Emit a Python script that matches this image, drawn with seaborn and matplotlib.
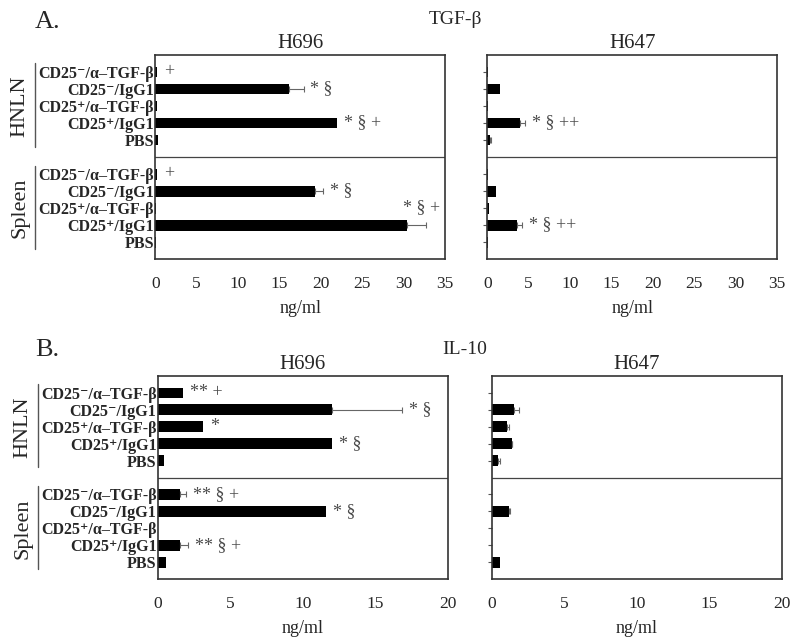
import numpy as np
import pandas as pd
import matplotlib
matplotlib.use("Agg")
import matplotlib.pyplot as plt
import matplotlib.transforms as mtransforms
import seaborn as sns

# row labels, HNLN block first then Spleen block
groups = ["CD25⁻/α–TGF-β", "CD25⁻/IgG1", "CD25⁺/α–TGF-β", "CD25⁺/IgG1", "PBS"]
tissues = ["HNLN", "Spleen"]

# A. TGF-beta (ng/ml)
tgf_h696 = [0.2, 16.1, 0.2, 21.9, 0.3, 0.2, 19.3, 0.1, 30.4, 0.05]
tgf_h696_err = [0, 1.8, 0, 0, 0, 0, 0.9, 0, 2.3, 0]
tgf_h647 = [0.15, 1.6, 0.15, 4.0, 0.3, 0.15, 1.1, 0.25, 3.6, 0.05]
tgf_h647_err = [0, 0, 0, 0.6, 0.1, 0, 0, 0, 0.6, 0]

# B. IL-10 (ng/ml)
il10_h696 = [1.7, 12.0, 3.1, 12.0, 0.4, 1.5, 11.6, 0.0, 1.55, 0.55]
il10_h696_err = [0, 4.8, 0, 0, 0, 0.45, 0, 0, 0.5, 0]
il10_h647 = [0.0, 1.55, 1.05, 1.35, 0.4, 0.0, 1.2, 0.0, 0.0, 0.55]
il10_h647_err = [0, 0.3, 0.1, 0.05, 0.15, 0, 0.05, 0, 0, 0]

# significance marks: (row, text) or (row, text, row whose bar it sits next to)
tgf_h696_marks = [(0, "+"), (1, "* §"), (3, "* § +"), (5, "+"), (6, "* §"), (7, "* § +", 8)]
tgf_h647_marks = [(3, "* § ++"), (8, "* § ++")]
il10_h696_marks = [(0, "** +"), (1, "* §"), (2, "*"), (3, "* §"),
                   (5, "** § +"), (6, "* §"), (8, "** § +")]
il10_h647_marks = []

# slot positions on the y axis: rows 1-5, divider at 6, rows 7-11
slots = [1, 2, 3, 4, 5, 7, 8, 9, 10, 11]

sns.set_style("white")
plt.rcParams["font.family"] = ["Liberation Serif", "DejaVu Serif"]

GREY = "#4a4a4a"


def draw_panel(ax, vals, errs, marks, xmax, title, labels):
    df = pd.DataFrame({"value": vals, "slot": slots})
    sns.barplot(data=df, x="value", y="slot", orient="h", native_scale=True,
                color="black", saturation=1, width=0.64, errorbar=None,
                linewidth=0, ax=ax)
    for v, e, s in zip(vals, errs, slots):
        if e > 0:
            ax.errorbar(v, s, xerr=[[0], [e]], fmt="none", ecolor="#666666",
                        elinewidth=0.8, capsize=2.5, capthick=0.8)
    for m in marks:
        row, text = m[0], m[1]
        if len(m) == 3:
            x, off = vals[m[2]], -3
        else:
            x, off = vals[row] + errs[row], 5
        ax.annotate(text, (x, slots[row]), xytext=(off, 0), textcoords="offset points",
                    ha="left", va="center", fontsize=13, color=GREY)

    ax.axhline(6, color="#444444", lw=0.9)
    ax.set_ylim(12, 0)
    ax.set_xlim(0, xmax)
    ax.set_xticks(np.arange(0, xmax + 1, 5))
    ax.tick_params(axis="x", length=0, pad=12, labelsize=12.5)
    ax.set_xlabel("ng/ml", fontsize=13, labelpad=6)
    ax.set_ylabel("")
    ax.set_title(title, fontsize=15, pad=5)
    ax.set_yticks(slots)
    if labels:
        ax.set_yticklabels(groups * 2, fontweight="bold", fontsize=11.5)
        ax.tick_params(axis="y", length=0, pad=1)
        trans = mtransforms.blended_transform_factory(ax.transAxes, ax.transData)
        for k, name in enumerate(tissues):
            first, last = slots[5 * k], slots[5 * k + 4]
            ax.plot([-0.415, -0.415], [first - 0.5, last + 0.4], transform=trans,
                    color="#555555", lw=1.0, clip_on=False)
            ax.text(-0.465, (first + last) / 2, name, transform=trans, rotation=90,
                    ha="center", va="center", fontsize=16)
    else:
        ax.set_yticklabels([])
        ax.tick_params(axis="y", left=True, length=3, width=0.8, color="#555555")
    for sp in ax.spines.values():
        sp.set_color("#333333")
        sp.set_linewidth(1.2)


fig = plt.figure(figsize=(8, 6.43), dpi=100)
ax_a1 = fig.add_axes([0.194, 0.597, 0.3625, 0.3175])
ax_a2 = fig.add_axes([0.609, 0.597, 0.3625, 0.3175])
ax_b1 = fig.add_axes([0.1975, 0.0995, 0.3625, 0.3157])
ax_b2 = fig.add_axes([0.615, 0.0995, 0.3625, 0.3157])

draw_panel(ax_a1, tgf_h696, tgf_h696_err, tgf_h696_marks, 35, "H696", True)
draw_panel(ax_a2, tgf_h647, tgf_h647_err, tgf_h647_marks, 35, "H647", False)
draw_panel(ax_b1, il10_h696, il10_h696_err, il10_h696_marks, 20, "H696", True)
draw_panel(ax_b2, il10_h647, il10_h647_err, il10_h647_marks, 20, "H647", False)

fig.text(0.044, 0.966, "A.", fontsize=19, ha="left", va="center")
fig.text(0.569, 0.969, "TGF-β", fontsize=14, ha="center", va="center")
fig.text(0.044, 0.456, "B.", fontsize=19, ha="left", va="center")
fig.text(0.581, 0.456, "IL-10", fontsize=14, ha="center", va="center")

fig.savefig("out.png", dpi=100)
